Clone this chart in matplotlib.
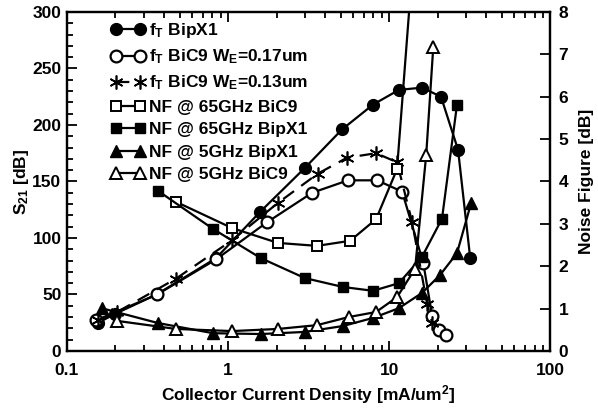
import numpy as np
import matplotlib
matplotlib.use("Agg")
import matplotlib.pyplot as plt
from matplotlib.ticker import MultipleLocator, FixedLocator, NullFormatter

plt.rcParams['font.family'] = ['Liberation Sans', 'DejaVu Sans']
plt.rcParams['font.weight'] = 'bold'
plt.rcParams['mathtext.fontset'] = 'custom'
plt.rcParams['mathtext.rm'] = 'Liberation Sans:bold'
plt.rcParams['mathtext.bf'] = 'Liberation Sans:bold'
plt.rcParams['mathtext.default'] = 'bf'

# fT (left axis, S21 dB)
ft_bipx1_x = [0.156, 0.2, 0.36, 0.84, 1.58, 3.0, 5.1, 7.95, 11.5, 16.0, 21.0, 26.8, 31.9]
ft_bipx1_y = [25, 33, 50, 82, 123, 162, 196, 218, 231, 233, 225, 178, 82]

ft_bic9_17_x = [0.151, 0.363, 0.842, 1.75, 3.33, 5.56, 8.42, 12.05, 16.3, 18.5, 20.4, 22.6]
ft_bic9_17_y = [27, 50, 81, 114, 140, 151, 151, 141, 78, 31, 19, 14]

ft_bic9_13_x = [0.156, 0.205, 0.475, 1.06, 2.04, 3.62, 5.48, 8.3, 11.2, 13.9, 17.2, 18.5]
ft_bic9_13_y = [27, 34.5, 64, 98, 131, 157, 171, 175, 167, 114, 42, 25]

# Noise figure (right axis, dB)
nf65_bic9_x = [0.475, 1.06, 2.04, 3.57, 5.73, 8.3, 11.2, 14.0]
nf65_bic9_y = [3.52, 2.90, 2.55, 2.48, 2.60, 3.11, 4.29, 9.1]

nf65_bipx1_x = [0.367, 0.807, 1.60, 3.0, 5.18, 7.95, 11.5, 16.0, 21.3, 26.4]
nf65_bipx1_y = [3.78, 2.88, 2.19, 1.72, 1.51, 1.42, 1.60, 2.22, 3.12, 5.81]

nf5_bipx1_x = [0.164, 0.367, 0.807, 1.60, 3.0, 5.18, 7.95, 11.5, 16.0, 20.7, 26.4, 32.3]
nf5_bipx1_y = [1.01, 0.66, 0.42, 0.40, 0.45, 0.59, 0.78, 1.01, 1.37, 1.79, 2.31, 3.49]

nf5_bic9_x = [0.205, 0.475, 1.06, 2.04, 3.57, 5.6, 8.3, 11.2, 14.5, 17.0, 18.8]
nf5_bic9_y = [0.71, 0.52, 0.47, 0.52, 0.61, 0.80, 0.92, 1.27, 1.94, 4.63, 7.17]

fig = plt.figure(figsize=(5.98, 4.11), dpi=100)
ax = fig.add_axes([0.112, 0.146, 0.808, 0.825])
ax2 = ax.twinx()

lw = 1.6
fs = 12.5

lines = []
lines += ax.plot(ft_bipx1_x, ft_bipx1_y, '-', color='black', lw=lw, marker='o', ms=8.5,
                 mfc='black', mec='black', label=r'f$_{T}$ BipX1')
lines += ax.plot(ft_bic9_17_x, ft_bic9_17_y, '-', color='black', lw=lw, marker='o', ms=8.5,
                 mfc='white', mec='black', mew=1.6, label=r'f$_{T}$ BiC9 W$_{E}$=0.17um')
lines += ax.plot(ft_bic9_13_x, ft_bic9_13_y, '--', color='black', lw=lw, marker=(6, 2, 0), ms=10,
                 mec='black', mew=1.2, dashes=(6, 4), label=r'f$_{T}$ BiC9 W$_{E}$=0.13um')
lines += ax2.plot(nf65_bic9_x, nf65_bic9_y, '-', color='black', lw=lw, marker='s', ms=7.5,
                  mfc='white', mec='black', mew=1.4, label='NF @ 65GHz BiC9')
lines += ax2.plot(nf65_bipx1_x, nf65_bipx1_y, '-', color='black', lw=lw, marker='s', ms=7.5,
                  mfc='black', mec='black', label='NF @ 65GHz BipX1')
lines += ax2.plot(nf5_bipx1_x, nf5_bipx1_y, '-', color='black', lw=lw, marker='^', ms=8.5,
                  mfc='black', mec='black', label='NF @ 5GHz BipX1')
lines += ax2.plot(nf5_bic9_x, nf5_bic9_y, '-', color='black', lw=lw, marker='^', ms=8.5,
                  mfc='white', mec='black', mew=1.4, label='NF @ 5GHz BiC9')

ax.set_xscale('log')
ax.set_xlim(0.1, 100)
ax.set_ylim(0, 300)
ax2.set_ylim(0, 8)

ax.yaxis.set_major_locator(MultipleLocator(50))
ax.yaxis.set_minor_locator(MultipleLocator(10))
ax2.yaxis.set_major_locator(MultipleLocator(1))
ax2.yaxis.set_minor_locator(FixedLocator([]))

ax.set_xticks([0.1, 1, 10, 100])
ax.set_xticklabels(['0.1', '1', '10', '100'])
ax.xaxis.set_minor_formatter(NullFormatter())

ax.tick_params(which='both', direction='in', top=True, right=False, labelsize=fs, width=1.3)
ax.tick_params(which='major', length=7)
ax.tick_params(which='minor', length=4)
ax.tick_params(axis='x', which='major', pad=9)
ax.tick_params(axis='y', which='major', pad=4)
ax2.tick_params(which='both', direction='in', labelsize=fs, width=1.3, length=7, pad=6)

for a in (ax, ax2):
    for s in a.spines.values():
        s.set_linewidth(1.6)

ax.set_xlabel(r'Collector Current Density [mA/um$^{2}$]', fontsize=fs, fontweight='bold', labelpad=3)
ax.set_ylabel(r'S$_{21}$ [dB]', fontsize=fs, fontweight='bold', labelpad=1)
ax2.set_ylabel('Noise Figure [dB]', fontsize=fs, fontweight='bold', labelpad=8)

leg = ax.legend(handles=lines, loc='upper left', bbox_to_anchor=(0.07, 1.0), frameon=False,
                fontsize=fs, numpoints=2, handlelength=2.0, handletextpad=0.2,
                labelspacing=0.42, borderaxespad=0.15)

fig.savefig('out.png', dpi=100)
